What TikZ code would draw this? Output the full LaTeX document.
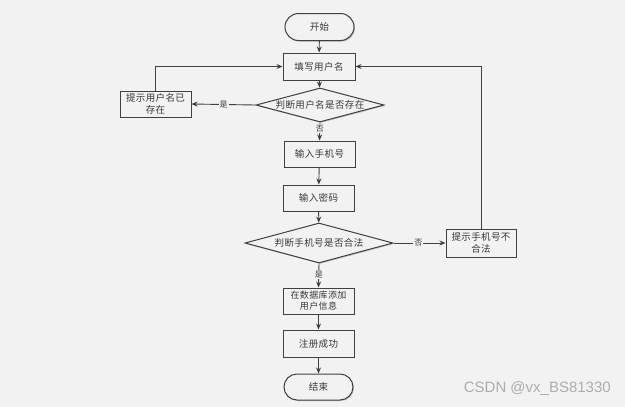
\documentclass[tikz,border=0pt]{standalone}
\usepackage{fontspec}
\newfontfamily\cjk[LetterSpace=4]{Noto Sans CJK SC}
\newfontfamily\wm{Liberation Sans}
\usetikzlibrary{shapes.geometric,shapes.misc,arrows.meta,shadows}
\definecolor{bg}{HTML}{F2F2F2}
\definecolor{ln}{HTML}{404040}
\definecolor{tx}{HTML}{383838}
\tikzset{
  base/.style={draw=ln, line width=1pt, fill=bg, font=\cjk\fontsize{9.5}{12}\selectfont, text=tx, inner sep=1pt, align=center,
    drop shadow={shadow xshift=1pt, shadow yshift=-1pt, fill=black!30, opacity=0.8}},
  proc/.style={base, rectangle, minimum width=71pt, minimum height=26pt},
  term/.style={base, rounded rectangle, minimum width=71pt, minimum height=27pt},
  dec/.style={base, diamond, inner sep=0pt},
  dlab/.style={text=tx, font=\cjk\fontsize{9.5}{12}\selectfont, inner sep=0pt},
  arr/.style={draw=ln, line width=0.9pt, -{Stealth[length=6pt,width=5pt]}},
  lab/.style={fill=bg, inner sep=1pt, font=\cjk\fontsize{8}{9}\selectfont, text=tx},
}
\begin{document}
\begin{tikzpicture}[x=1pt,y=-1pt]
\fill[bg] (0,0) rectangle (625,407);
\useasboundingbox (0,0) rectangle (625,407);
\node[term] (start) at (319.5,27) {开始};
\node[proc, minimum width=72pt, minimum height=27pt] (fill) at (319,66.5) {填写用户名};
\node[dec, minimum width=128pt, minimum height=34pt, label={[dlab]center:判断用户名是否存在}] (d1) at (320,105) {};
\node[proc, minimum width=71pt, minimum height=26pt] (exist) at (155.5,104) {提示用户名已\\存在};
\node[proc] (phone) at (319.5,154) {输入手机号};
\node[proc] (pwd) at (318.5,198) {输入密码};
\node[dec, minimum width=148pt, minimum height=40pt, label={[dlab]center:判断手机号是否合法}] (d2) at (319,243) {};
\node[proc, minimum width=70pt, minimum height=28pt] (bad) at (481,243) {提示手机号不\\合法};
\node[proc, font=\cjk\fontsize{9}{11}\selectfont] (add) at (318.5,301) {在数据库添加\\用户信息};
\node[proc, minimum height=27pt] (ok) at (318.5,343.5) {注册成功};
\node[term, minimum height=26pt] (end) at (318.5,387) {结束};
\node[font=\wm\fontsize{15}{18}\selectfont, text=black!32, anchor=east, inner sep=0pt] (wmk) at (611,389) {CSDN @vx\_BS81330};

\draw[arr] (start) -- (fill);
\draw[arr] (fill) -- (d1);
\draw[arr] (d1.west) -- node[lab, pos=0.5] {是} (exist.east);
\draw[arr] (exist.north) |- (fill.west);
\draw[arr] (d1.south) -- node[lab, pos=0.33] {否} (phone.north);
\draw[arr] (phone) -- (pwd);
\draw[arr] (pwd) -- (d2);
\draw[arr] (d2.east) -- node[lab, pos=0.48] {否} (bad.west);
\draw[arr] (bad.north) |- (fill.east);
\draw[arr] (d2.south) -- node[lab, pos=0.45] {是} (add.north);
\draw[arr] (add) -- (ok);
\draw[arr] (ok) -- (end);
\end{tikzpicture}
\end{document}
